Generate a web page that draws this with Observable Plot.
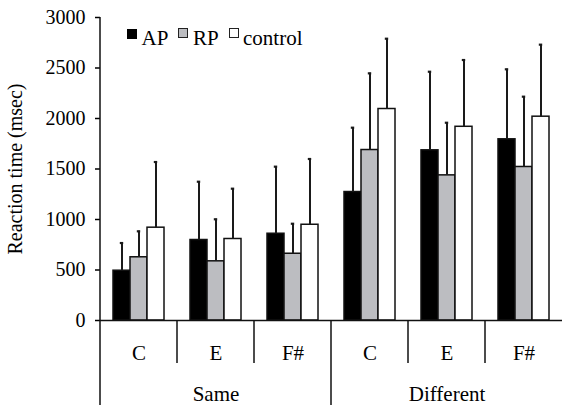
<!DOCTYPE html>
<html><head><meta charset="utf-8">
<script src="https://cdn.jsdelivr.net/npm/d3@7"></script>
<script src="https://cdn.jsdelivr.net/npm/@observablehq/plot@0.6"></script>
<style>
body{margin:0;background:#fff;}
#wrap{position:relative;width:563px;height:405px;font-family:"Liberation Serif",serif;}
#wrap svg, #wrap svg text{font-family:"Liberation Serif",serif !important;}
.sq{position:absolute;box-sizing:border-box;}
.lt{position:absolute;font-size:21px;line-height:1;color:#000;white-space:nowrap;}
</style></head><body><div id="wrap"></div>
<script>
// ---- data ----
const conditions = ["Same","Same","Same","Different","Different","Different"];
const notes = ["C","E","F#","C","E","F#"];
const series = ["AP","RP","control"];
const apMean = [493, 797, 859, 1272, 1685, 1794];
const rpMean = [626, 586, 661, 1688, 1437, 1520];
const controlMean = [919, 807, 948, 2094, 1918, 2018];
const apErr = [274, 577, 664, 637, 778, 693];
const rpErr = [257, 416, 297, 759, 521, 696];
const controlErr = [650, 498, 651, 696, 661, 713];
const yTicks = [0, 500, 1000, 1500, 2000, 2500, 3000];
const seriesColors = ["#000000", "#bcbdc1", "#ffffff"];

// ---- tables ----
const means = {AP: apMean, RP: rpMean, control: controlMean};
const errs = {AP: apErr, RP: rpErr, control: controlErr};
const keys = conditions.map((c, i) => c + " " + notes[i]);
const rows = [];
keys.forEach((k, i) => series.forEach(s => rows.push({key: k, series: s, mean: means[s][i], top: means[s][i] + errs[s][i]})));
const noteRows = keys.map((k, i) => ({key: k, note: notes[i]}));
const groupNames = [...new Set(conditions)];
const groupRows = groupNames.map(g => {
  const idx = conditions.map((c, i) => c === g ? i : -1).filter(i => i >= 0);
  return {key: keys[idx[Math.floor(idx.length / 2)]], label: g};
});

const plot = Plot.plot({
  width: 563, height: 405,
  marginTop: 17, marginBottom: 85, marginLeft: 99, marginRight: 0,
  style: {fontFamily: "\"Liberation Serif\", serif", fontSize: "20px", color: "#000", background: "#fff"},
  fx: {domain: keys, padding: 0, axis: null},
  x: {domain: series, paddingInner: 0, paddingOuter: 0.72, axis: null},
  y: {domain: [0, 3000], axis: null},
  color: {domain: series, range: seriesColors},
  marks: [
    Plot.axisY({ticks: yTicks, tickSize: 5, tickPadding: 10, tickFormat: d => String(d),
      label: "Reaction time (msec)", labelAnchor: "center", labelArrow: "none", labelOffset: 93,
      fontSize: 20, strokeWidth: 1.5}),
    Plot.barY(rows, {fx: "key", x: "series", y: "mean", fill: "series", stroke: "#111", strokeWidth: 1.5}),
    Plot.ruleX(rows, {fx: "key", x: "series", y1: "mean", y2: "top", stroke: "#1a1a1a", strokeWidth: 2}),
    Plot.tickY(rows, {fx: "key", x: "series", y: "top", stroke: "#1a1a1a", strokeWidth: 2.2, insetLeft: 6.8, insetRight: 6.8}),
    Plot.ruleY([0], {stroke: "#111", strokeWidth: 1.5}),
    Plot.text(noteRows, {fx: "key", text: "note", frameAnchor: "bottom", dy: 39, fontSize: 21, fill: "#000"}),
    Plot.text(groupRows, {fx: "key", text: "label", frameAnchor: "bottom", dy: 80, fontSize: 21, fill: "#000"})
  ]
});

const wrap = document.getElementById("wrap");
wrap.appendChild(plot);

// axis line and category separators, placed with the plot's own scales
const svgEl = plot.tagName.toLowerCase() === "svg" ? plot : plot.querySelector("svg");
const svg = d3.select(svgEl);
svg.style("font-family", "\"Liberation Serif\", serif");
const fx = plot.scale("fx"), y = plot.scale("y");
const y0 = y.apply(0), yTop = y.apply(yTicks[yTicks.length - 1]);
const H = +svg.attr("height");
keys.forEach((k, i) => {
  const xp = fx.apply(k);
  const major = i === 0 || conditions[i] !== conditions[i - 1];
  svg.append("line")
    .attr("x1", xp).attr("x2", xp)
    .attr("y1", i === 0 ? yTop : y0)
    .attr("y2", major ? H : y0 + 43)
    .attr("stroke", "#111").attr("stroke-width", 1.5);
});

// legend
const legendItems = [
  {sq: [127, 29, 10, 10], fill: "#000", border: "1px solid #000", text: [141.5, 27.5]},
  {sq: [178, 28, 10, 10], fill: "#bcbdc1", border: "1.5px solid #222", text: [193, 27.5]},
  {sq: [229, 28, 10, 10], fill: "#fff", border: "1.5px solid #222", text: [243, 27.5]}
];
legendItems.forEach((it, i) => {
  const s = document.createElement("div");
  s.className = "sq";
  s.style.left = it.sq[0] + "px"; s.style.top = it.sq[1] + "px";
  s.style.width = it.sq[2] + "px"; s.style.height = it.sq[3] + "px";
  s.style.background = it.fill; s.style.border = it.border;
  wrap.appendChild(s);
  const t = document.createElement("div");
  t.className = "lt";
  t.style.left = it.text[0] + "px"; t.style.top = it.text[1] + "px";
  t.textContent = series[i];
  wrap.appendChild(t);
});
</script>
</body></html>
